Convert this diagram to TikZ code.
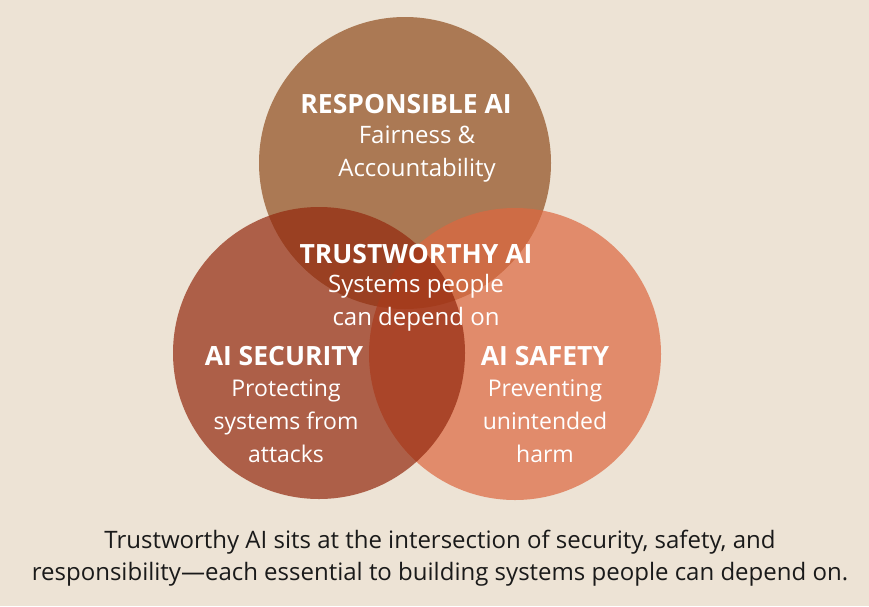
\documentclass[tikz,border=0pt]{standalone}
\usepackage{fontspec}
\setmainfont{Open Sans}
\usepackage{xcolor}
\usetikzlibrary{positioning}

\definecolor{paper}{HTML}{EDE3D5}
\definecolor{respcol}{HTML}{8F4D1E}
\definecolor{safecol}{HTML}{DD673F}
\definecolor{secucol}{HTML}{93280D}
\definecolor{captcol}{HTML}{1A1A1A}

\tikzset{
  venn/.style={fill opacity=0.7},
  head/.style={anchor=base, text=white, font=\fontsize{26.5}{26.5}\selectfont\bfseries},
  sub/.style={anchor=base, text=white, align=center, font=\fontsize{24}{33}\selectfont},
  subsm/.style={sub, font=\fontsize{23}{33}\selectfont},
  capt/.style={anchor=base, text=captcol, align=center, font=\fontsize{24}{32}\selectfont}
}

\begin{document}
\begin{tikzpicture}[x=1pt, y=-1pt]
            % background
            \fill[paper] (0,0) rectangle (869,606);
            \useasboundingbox (0,0) rectangle (869,606);

            % circles
            \fill[respcol, venn] (405,163) circle[radius=146pt];
            \fill[safecol, venn] (515,354) circle[radius=146pt];
            \fill[secucol, venn] (319,353) circle[radius=146pt];

            % Responsible AI (sub text: baseline of last line)
            \node[head] (resp) at (406,113) {RESPONSIBLE AI};
            \node[sub] (resptxt) at (417,176) {Fairness \&\\Accountability};

            % Trustworthy AI
            \node[head] (trust) at (416,263) {TRUSTWORTHY AI};
            \node[sub] (trusttxt) at (416,325) {Systems people\\can depend on};

            % AI Security
            \node[head] (secu) at (284,365) {AI SECURITY};
            \node[subsm] (secutxt) at (286,462) {Protecting\\systems from\\attacks};

            % AI Safety
            \node[head] (safe) at (545,365) {AI SAFETY};
            \node[subsm] (safetxt) at (545,462) {Preventing\\unintended\\harm};

            % Caption
            \node[capt] (caption) at (440,580) {Trustworthy AI sits at the intersection of security, safety, and\\responsibility---each essential to building systems people can depend on.};
        \end{tikzpicture}
\end{document}
